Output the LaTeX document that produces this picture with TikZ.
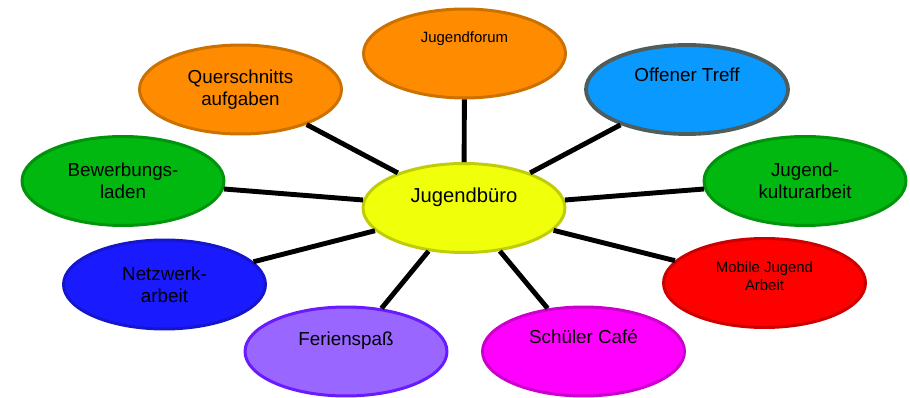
\documentclass[tikz,border=0pt]{standalone}
\usepackage{fontspec}
\setmainfont{Liberation Sans}
\usepackage{xcolor}
\usetikzlibrary{shapes,positioning}

\definecolor{hubYellow}{HTML}{F0FF0A}
\definecolor{ovOrange}{HTML}{FF8C00}
\definecolor{ovBlue}{HTML}{0A99FF}
\definecolor{ovGreen}{HTML}{00B80F}
\definecolor{ovRed}{HTML}{FF0000}
\definecolor{ovPink}{HTML}{FF00FF}
\definecolor{ovViolet}{HTML}{9966FF}
\definecolor{ovNavy}{HTML}{1A1AFF}
\definecolor{lineGray}{HTML}{4F5D5D}
\definecolor{lineViolet}{HTML}{6A1AFF}

\begin{document}
\begin{tikzpicture}[
    x=0.02cm, y=-0.02cm,
    oval/.style={ellipse, fill=#1, draw=#1!80!black, line width=1.7pt, minimum width=4.04cm, minimum height=1.78cm, inner sep=0pt, align=center, font=\fontsize{10.7}{12.5}\selectfont},
    small/.style={font=\fontsize{8.5}{10.2}\selectfont},
    lift/.style={text height=8pt, text depth=#1},
    link/.style={line width=2.8pt, draw=black}
]
    \useasboundingbox (0,0) rectangle (910,398);

    \node [oval=hubYellow, lift=14.6pt, font=\fontsize{11.5}{13}\selectfont] (hub) at (464,208) {Jugendbüro};

    \node [oval=ovOrange, small, lift=20.2pt] (n1) at (464.5,53.5) {Jugendforum};
    \node [oval=ovBlue, draw=lineGray, line width=2.2pt, lift=16.8pt] (n2) at (687,89.5) {Offener Treff};
    \node [oval=ovGreen] (n3) at (805,181) {Jugend-\\kulturarbeit};
    \node [oval=ovRed, small, text depth=8.3pt] (n4) at (764.5,283) {Mobile Jugend\\Arbeit};
    \node [oval=ovPink, lift=17.4pt] (n5) at (583.5,351.5) {Schüler Café};
    \node [oval=ovViolet, draw=lineViolet, lift=15.2pt] (n6) at (346,351.5) {Ferienspaß};
    \node [oval=ovNavy] (n7) at (164.5,284.5) {Netzwerk-\\arbeit};
    \node [oval=ovGreen] (n8) at (123,181) {Bewerbungs-\\laden};
    \node [oval=ovOrange] (n9) at (240.5,89.5) {Querschnitts\\aufgaben};

    \foreach \n in {n1,n2,n3,n4,n5,n6,n7,n8,n9}
        \draw [link] (hub) -- (\n);
\end{tikzpicture}
\end{document}
